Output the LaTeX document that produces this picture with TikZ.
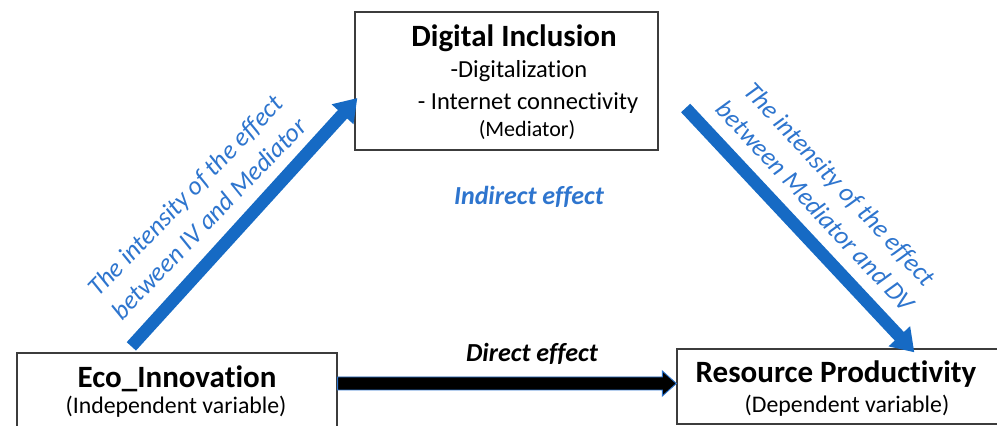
\documentclass[tikz,border=0pt]{standalone}
\usepackage{fontspec}
\setmainfont{Carlito}[Ligatures=NoCommon]
\usetikzlibrary{arrows.meta,calc}

\definecolor{arrowblue}{RGB}{22,106,196}
\definecolor{textblue}{RGB}{46,117,206}
\definecolor{boxline}{RGB}{60,60,60}

\tikzset{
  varbox/.style={draw=boxline, line width=1.3pt, fill=white, rectangle, inner sep=0pt},
  title/.style={font=\fontsize{31}{36}\selectfont\bfseries, anchor=base, inner sep=0pt},
  subtitle/.style={font=\fontsize{23.8}{28}\selectfont, anchor=base, inner sep=0pt},
  item/.style={font=\fontsize{24.5}{29}\selectfont, anchor=base, inner sep=0pt},
  pathlabel/.style={font=\fontsize{26}{33}\selectfont\itshape, text=textblue, align=center, inner sep=0pt},
  effectlabel/.style={font=\fontsize{26}{30}\selectfont\bfseries\itshape, anchor=base, inner sep=0pt},
  bluearrow/.style={draw=arrowblue, line width=12.5pt, -{Triangle[width=28pt,length=22pt]}},
  directarrow/.style={fill=black, draw=textblue, line width=0.9pt}
}

\begin{document}
\begin{tikzpicture}[x=1pt,y=1pt]
\useasboundingbox (0,0) rectangle (997,426);

% the three variable boxes
\node[varbox, minimum width=303pt, minimum height=138pt] (med) at (506.5,345) {};
\node[varbox, minimum width=320pt, minimum height=87pt] (eco) at (177,29.5) {};
\node[varbox, minimum width=340pt, minimum height=75pt] (res) at (847,39.5) {};

% box texts
\node[title] (medtitle) at (514,379) {Digital Inclusion};
\node[item] (meditem1) at (519,348) {-Digitalization};
\node[item] (meditem2) at (528,316) {- Internet connectivity};
\node[subtitle, font=\fontsize{22}{26}\selectfont] (medrole) at (527,289) {(Mediator)};

\node[title] (ecotitle) at (177,38) {Eco\_Innovation};
\node[subtitle] (ecorole) at (176,12) {(Independent variable)};

\node[title] (restitle) at (836,43) {Resource Productivity};
\node[subtitle] (resrole) at (847,13) {(Dependent variable)};

% indirect path: IV -> mediator -> DV
\coordinate (ivout) at ($(eco.north west)+(115,6)$);
\coordinate (medin) at ($(med.west)+(3,-17)$);
\coordinate (medout) at ($(med.east)+(27,-27)$);
\coordinate (dvin) at ($(res.north west)+(238,-4)$);
\draw[bluearrow] (ivout) -- (medin);
\draw[bluearrow] (medout) -- (dvin);

% direct path: IV -> DV
\coordinate (ds) at (eco.east |- 0,42.5);
\coordinate (de) at (res.west |- 0,42.5);
\filldraw[directarrow] ($(ds)+(0,6.5)$) -- ($(de)+(-14,6.5)$) -- ($(de)+(-14,12.5)$)
  -- (de) -- ($(de)+(-14,-12.5)$) -- ($(de)+(-14,-6.5)$) -- ($(ds)+(0,-6.5)$) -- cycle;

% labels
\node[pathlabel, rotate=46] (ivlabel) at (197,219) {The intensity of the effect\\between IV and Mediator};
\node[pathlabel, rotate=-47] (dvlabel) at (828,231) {The intensity of the effect\\between Mediator and DV};
\node[effectlabel, text=textblue] (indirect) at (529,221) {Indirect effect};
\node[effectlabel] (direct) at (532,64) {Direct effect};
\end{tikzpicture}
\end{document}
